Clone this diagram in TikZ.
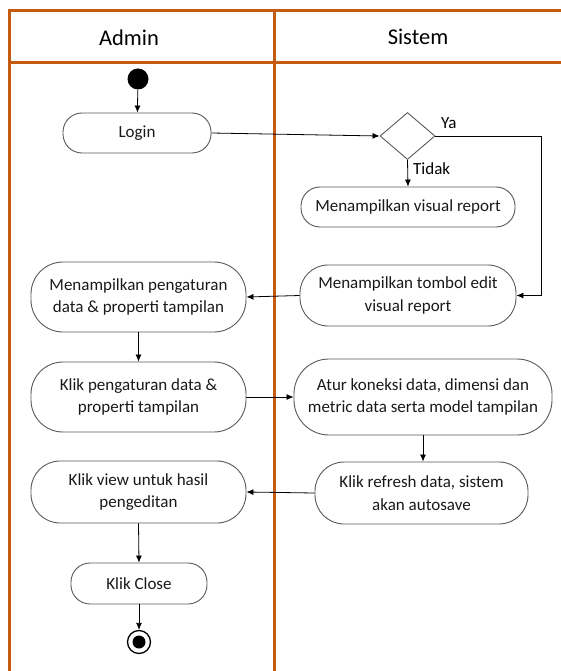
\documentclass[tikz,border=0pt]{standalone}
\usepackage{fontspec}
\setmainfont{Carlito}
\usetikzlibrary{shapes.geometric,arrows.meta}
\definecolor{laneorange}{HTML}{C55A11}
\definecolor{boxline}{HTML}{595959}
\tikzset{
  lane/.style={draw=laneorange,line width=3pt},
  act/.style={draw=boxline,line width=0.9pt,rectangle,align=center,inner sep=0pt,font=\fontsize{17}{22.7}\selectfont,text=black!90},
  flow/.style={draw=black,line width=0.8pt,-{Latex[length=7pt,width=6pt]}},
  lbl/.style={font=\fontsize{17}{20}\selectfont,inner sep=0pt}
}
\begin{document}
\begin{tikzpicture}[x=1pt,y=-1pt]
\useasboundingbox (0,0) rectangle (560,671);
% swimlanes
\draw[lane] (9.5,10.7) -- (561,10.7);
\draw[lane] (9.5,62.3) -- (561,62.3);
\draw[lane] (9.5,9.2) -- (9.5,672);
\draw[lane] (274,9.2) -- (274,672);
\node[font=\fontsize{22.5}{24}\selectfont] (hA) at (129,38) {Admin};
\node[font=\fontsize{22.5}{24}\selectfont] (hS) at (418,37) {Sistem};
% nodes
\node[circle,fill=black,minimum size=21pt,inner sep=0pt] (start) at (138,79) {};
\node[act,minimum width=148pt,minimum height=40pt,rounded corners=19pt] (login) at (137,133) {Login};
\node[draw=boxline,line width=0.9pt,diamond,minimum width=55pt,minimum height=47pt,inner sep=0pt] (dec) at (407.5,136) {};
\node[act,minimum width=214pt,minimum height=40pt,rounded corners=19pt] (vis) at (408,207) {Menampilkan visual report};
\node[act,minimum width=216pt,minimum height=61pt,rounded corners=28pt] (tombol) at (408,295.5) {Menampilkan tombol edit\\visual report};
\node[act,minimum width=215pt,minimum height=70pt,rounded corners=32pt] (peng) at (138.5,297) {Menampilkan pengaturan\\data \& properti tampilan};
\node[act,minimum width=215pt,minimum height=70pt,rounded corners=32pt] (klikpeng) at (138.5,397) {Klik pengaturan data \&\\properti tampilan};
\node[act,minimum width=258pt,minimum height=76pt,rounded corners=35pt] (atur) at (423,397) {Atur koneksi data, dimensi dan\\metric data serta model tampilan};
\node[act,minimum width=213pt,minimum height=62pt,rounded corners=29pt] (refresh) at (421.5,493) {Klik refresh data, sistem\\akan autosave};
\node[act,minimum width=215pt,minimum height=62pt,rounded corners=29pt] (view) at (138.5,492) {Klik view untuk hasil\\pengeditan};
\node[act,minimum width=136pt,minimum height=41pt,rounded corners=19pt] (close) at (139,583.5) {Klik Close};
\node[circle,draw=black,line width=1.3pt,minimum size=23pt,inner sep=0pt] (end) at (139,642) {};
\node[circle,fill=black,minimum size=13pt,inner sep=0pt] (endin) at (139,642) {};
% labels
\node[lbl,anchor=west] (ya) at (441,123) {Ya};
\node[lbl,anchor=west] (tidak) at (413,169) {Tidak};
\coordinate (yaC) at (541,136);
% connectors
\draw[flow] (start) -- (login);
\draw[flow] (login.east) -- (dec.west);
\draw[flow] (dec.east) -- (yaC) |- (tombol.east);
\draw[flow] (dec.south) -- (vis.north);
\draw[flow] (tombol.west) -- (peng.east);
\draw[flow] (peng.south) -- (klikpeng.north);
\draw[flow] (klikpeng.east) -- (atur.west);
\draw[flow] (atur.south) -- (atur.south |- refresh.north);
\draw[flow] (refresh.west) -- (view.east);
\draw[flow] (view.south) -- (close.north);
\draw[flow] (close.south) -- (end.north);
\end{tikzpicture}
\end{document}
